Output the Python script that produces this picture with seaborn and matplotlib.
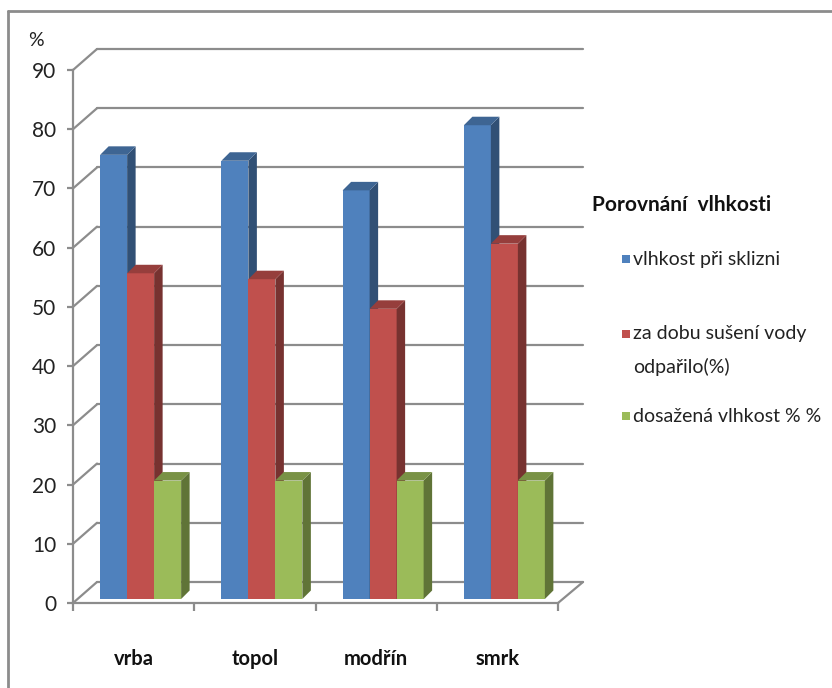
import matplotlib
matplotlib.use("Agg")
import numpy as np
import pandas as pd
import seaborn as sns
import matplotlib.pyplot as plt
import matplotlib.colors as mcolors
from matplotlib.patches import Polygon, Rectangle
from matplotlib.lines import Line2D

# ---------------- data ----------------
categories = ["vrba", "topol", "modřín", "smrk"]
series_names = ["vlhkost při sklizni", "za dobu sušení vody\nodpařilo(%)", "dosažená vlhkost % %"]
vlhkost_pri_sklizni = [75, 74, 69, 80]
za_dobu_suseni_odparilo = [55, 54, 49, 60]
dosazena_vlhkost = [20, 20, 20, 20]
y_ticks = [0, 10, 20, 30, 40, 50, 60, 70, 80, 90]
legend_title = "Porovnání  vlhkosti"
y_unit = "%"
colors = ["#4F81BD", "#C0504D", "#9BBB59"]

series_values = [vlhkost_pri_sklizni, za_dobu_suseni_odparilo, dosazena_vlhkost]
rows = []
for name, vals in zip(series_names, series_values):
    for c, v in zip(categories, vals):
        rows.append({"kategorie": c, "hodnota": v, "rada": name})
df = pd.DataFrame(rows)

# ---------------- style ----------------
sns.set_theme(style="white")
plt.rcParams["font.family"] = ["Lato", "DejaVu Sans"]

W, H = 832, 688
fig = plt.figure(figsize=(W / 100, H / 100), dpi=100)
fig.patch.set_facecolor("white")

# front plane of the 3-D box
x0, x1, yb, yt = 73, 558, 603, 70
ax = fig.add_axes([x0 / W, (H - yb) / H, (x1 - x0) / W, (yb - yt) / H])
ax.set_facecolor("none")

sns.barplot(data=df, x="kategorie", y="hodnota", hue="rada", palette=colors,
            saturation=1, width=0.668, ax=ax, legend=False, linewidth=0)
ax.set_xlim(-0.5, 3.5)
ax.set_ylim(0, 90)

ppx = (x1 - x0) / 4.0      # pixels per category unit
ppy = (yb - yt) / 90.0     # pixels per value unit

grid_col = "#8C8C8C"
bdx, bdy = 24, 21          # back-plane offset (pixels)
pdx, pdy = 7, 4            # bar-plane offset (pixels)
depth = 8.5

# back gridlines + left diagonals
for v in y_ticks:
    ax.add_line(Line2D([-0.5 + bdx / ppx, 3.5 + bdx / ppx + 1 / ppx],
                       [v + bdy / ppy, v + bdy / ppy],
                       color=grid_col, lw=1.6, zorder=1, clip_on=False))
    ax.add_line(Line2D([-0.5, -0.5 + bdx / ppx], [v, v + bdy / ppy],
                       color=grid_col, lw=1.6, zorder=1, clip_on=False))
ax.add_line(Line2D([3.5, 3.5 + bdx / ppx + 1 / ppx], [0, bdy / ppy],
                   color=grid_col, lw=1.6, zorder=1, clip_on=False))

# 3-D bars
bars = list(ax.patches)
n_cat = len(categories)
for i, p in enumerate(bars):
    s = i // n_cat
    z = 3 + s * 0.1
    x = p.get_x() + pdx / ppx
    w = p.get_width()
    h = p.get_height()
    yb0 = pdy / ppy
    p.set_x(x)
    p.set_y(yb0)
    p.set_zorder(z)
    p.set_clip_on(False)
    base = np.array(mcolors.to_rgb(colors[s]))
    side_c = base * 0.62
    top_c = base * 0.78
    ddx, ddy = depth / ppx, depth / ppy
    side = Polygon([(x + w, yb0), (x + w, yb0 + h), (x + w + ddx, yb0 + h + ddy), (x + w + ddx, yb0 + ddy)],
                   closed=True, facecolor=side_c, edgecolor="none", zorder=z + 0.01, clip_on=False)
    top = Polygon([(x, yb0 + h), (x + w, yb0 + h), (x + w + ddx, yb0 + h + ddy), (x + ddx, yb0 + h + ddy)],
                  closed=True, facecolor=top_c, edgecolor="none", zorder=z + 0.01, clip_on=False)
    ax.add_patch(side)
    ax.add_patch(top)

# spines / ticks
for sp in ["top", "right"]:
    ax.spines[sp].set_visible(False)
for sp in ["left", "bottom"]:
    ax.spines[sp].set_color(grid_col)
    ax.spines[sp].set_linewidth(1.6)
    ax.spines[sp].set_zorder(2)

ax.set_yticks(y_ticks)
ax.set_yticklabels([str(v) for v in y_ticks], fontsize=15, color="#222222")
ax.tick_params(axis="y", which="major", direction="out", length=4, width=1.6,
               color=grid_col, pad=8, left=True)
ax.set_xticks([-0.5, 0.5, 1.5, 2.5, 3.5])
ax.set_xticklabels([""] * 5)
ax.tick_params(axis="x", which="major", direction="out", length=6, width=1.6,
               color=grid_col, bottom=True)
ax.set_xticks(range(n_cat), minor=True)
ax.set_xticklabels(categories, minor=True, fontsize=14.5, fontweight="bold", color="#111111")
ax.tick_params(axis="x", which="minor", length=0, pad=33)
ax.set_xlabel("")
ax.set_ylabel("")
ax.grid(False)

fig.text(36 / W, 1 - 40 / H, y_unit, fontsize=14, ha="center", va="center", color="#222222")

# legend (manual layout)
fig.text(592 / W, 1 - 205 / H, legend_title, fontsize=15, fontweight="bold",
         ha="left", va="center", color="#111111")
legend_y = [259, 334, 416]
for name, c, ly in zip(series_names, colors, legend_y):
    fig.add_artist(Rectangle((622 / W, 1 - (ly + 4) / H), 8 / W, 8 / H,
                             transform=fig.transFigure, facecolor=c, edgecolor="none"))
    lines = name.split("\n")
    for k, ln in enumerate(lines):
        fig.text(633 / W, 1 - (ly + 33 * k) / H, ln, fontsize=14, ha="left", va="center",
                 color="#222222")

# outer frame
fig.add_artist(Line2D([8 / W, 8 / W], [0, 1 - 11 / H], transform=fig.transFigure,
                      color="#8C8C8C", lw=2))
fig.add_artist(Line2D([8 / W, 1], [1 - 11 / H, 1 - 11 / H], transform=fig.transFigure,
                      color="#8C8C8C", lw=2))

fig.savefig("out.png", dpi=100)
